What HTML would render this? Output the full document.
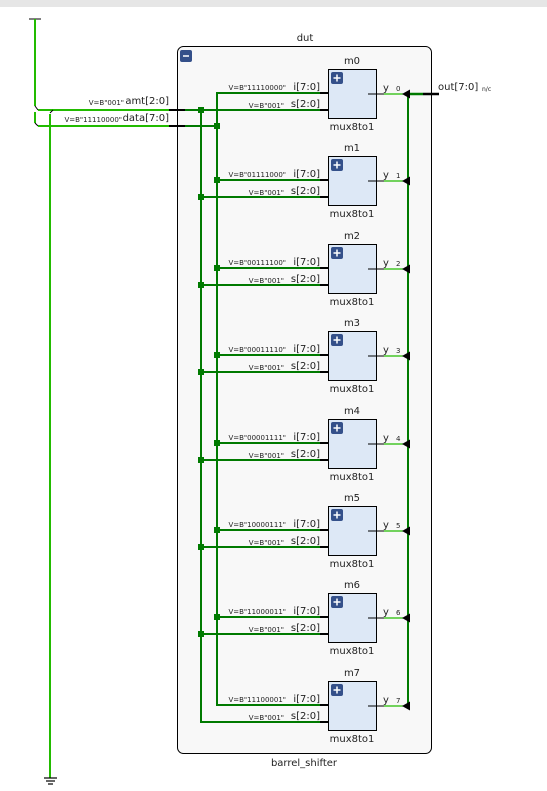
<!DOCTYPE html>
<html><head><meta charset="utf-8"><style>
html,body{margin:0;padding:0;background:#fff;}
svg{display:block;}
text{font-family:"DejaVu Sans","Liberation Sans",sans-serif;fill:#222;}
.sm{font-size:7px;}
.md{font-size:10px;}
</style></head><body>
<svg width="547" height="791" viewBox="0 0 547 791" xmlns="http://www.w3.org/2000/svg">
<rect x="0" y="0" width="547" height="7" fill="#e6e6e6"/>
<line x1="29" y1="19" x2="41" y2="19" stroke="#000" stroke-width="1"/>
<line x1="35" y1="19" x2="35" y2="106" stroke="#22bb00" stroke-width="2"/>
<line x1="35" y1="112" x2="35" y2="123" stroke="#22bb00" stroke-width="2"/>
<path d="M35 106 L38 110 M35 123 L38 126" stroke="#000" stroke-width="1"/>
<line x1="38" y1="110" x2="170" y2="110" stroke="#22bb00" stroke-width="2"/>
<line x1="38" y1="126" x2="170" y2="126" stroke="#22bb00" stroke-width="2"/>
<path d="M50 113 L53 110" stroke="#000" stroke-width="1"/>
<line x1="50" y1="114" x2="50" y2="778" stroke="#22bb00" stroke-width="2"/>
<line x1="44" y1="778" x2="57" y2="778" stroke="#000" stroke-width="1.2"/>
<line x1="46" y1="781" x2="55" y2="781" stroke="#000" stroke-width="1.2"/>
<line x1="48" y1="784" x2="53" y2="784" stroke="#000" stroke-width="1.2"/>
<text class="sm" x="124" y="105" text-anchor="end">V=B"001"</text>
<text class="md" x="169" y="104" text-anchor="end">amt[2:0]</text>
<text class="sm" x="122" y="122" text-anchor="end">V=B"11110000"</text>
<text class="md" x="169" y="121" text-anchor="end">data[7:0]</text>
<text class="md" x="305" y="41" text-anchor="middle">dut</text>
<rect x="177.5" y="46.5" width="254" height="707" rx="6" fill="#f8f8f8" stroke="#000" stroke-width="1"/>
<rect x="180" y="50" width="12" height="12" rx="2" fill="#34508a"/>
<line x1="183" y1="56" x2="189" y2="56" stroke="#fff" stroke-width="1.5"/>
<text class="md" x="304" y="766" text-anchor="middle">barrel_shifter</text>
<line x1="169" y1="110" x2="185" y2="110" stroke="#000" stroke-width="2"/>
<line x1="169" y1="126" x2="185" y2="126" stroke="#000" stroke-width="2"/>
<line x1="185" y1="110" x2="201" y2="110" stroke="#007a00" stroke-width="2"/>
<line x1="185" y1="126" x2="217" y2="126" stroke="#007a00" stroke-width="2"/>
<line x1="201" y1="110" x2="201" y2="722" stroke="#007a00" stroke-width="2"/>
<line x1="217" y1="93" x2="217" y2="705" stroke="#007a00" stroke-width="2"/>
<rect x="198" y="107" width="6" height="6" fill="#007a00"/>
<rect x="214" y="123" width="6" height="6" fill="#007a00"/>
<line x1="408" y1="93" x2="408" y2="706" stroke="#007a00" stroke-width="2"/>
<line x1="408" y1="94" x2="423" y2="94" stroke="#007a00" stroke-width="2.5"/>
<line x1="423" y1="94" x2="439" y2="94" stroke="#000" stroke-width="2.5"/>
<text class="md" x="438" y="90">out[7:0]</text>
<text class="sm" x="482" y="91" style="font-size:6px">n/c</text>
<defs>
<g id="mod">
<line x1="216" y1="24" x2="320" y2="24" stroke="#007a00" stroke-width="2"/>
<line x1="200" y1="41" x2="320" y2="41" stroke="#007a00" stroke-width="2"/>
<line x1="320" y1="24" x2="336" y2="24" stroke="#000" stroke-width="2"/>
<line x1="320" y1="41" x2="336" y2="41" stroke="#000" stroke-width="2"/>
<rect x="328.5" y="0.5" width="48" height="49" fill="#dde8f6" stroke="#000" stroke-width="1"/>
<rect x="331" y="3" width="12" height="12" rx="2" fill="#34508a"/>
<path d="M337 5.5 V12.5 M333.5 9 H340.5" stroke="#fff" stroke-width="1.5"/>
<line x1="368" y1="25" x2="384" y2="25" stroke="#000" stroke-width="1"/>
<line x1="384" y1="25" x2="403" y2="25" stroke="#22bb00" stroke-width="1.2"/>
<path d="M402 25 L410 20.5 L410 29.5 Z" fill="#000"/>
<text class="md" x="320" y="21" text-anchor="end">i[7:0]</text>
<text class="md" x="320" y="38" text-anchor="end">s[2:0]</text>
<text class="sm" x="284" y="39" text-anchor="end">V=B"001"</text>
<text class="md" x="383" y="22">y</text>
<text class="md" x="352" y="61" text-anchor="middle">mux8to1</text>
</g>
</defs>
<g transform="translate(0,69)"><use href="#mod"/><text class="md" x="352" y="-5" text-anchor="middle">m0</text><text class="sm" x="286" y="21" text-anchor="end">V=B"11110000"</text><text class="sm" x="396" y="22">0</text></g>
<g transform="translate(0,156)"><use href="#mod"/><text class="md" x="352" y="-5" text-anchor="middle">m1</text><text class="sm" x="286" y="21" text-anchor="end">V=B"01111000"</text><text class="sm" x="396" y="22">1</text><rect x="214" y="21" width="6" height="6" fill="#007a00"/><rect x="198" y="38" width="6" height="6" fill="#007a00"/></g>
<g transform="translate(0,244)"><use href="#mod"/><text class="md" x="352" y="-5" text-anchor="middle">m2</text><text class="sm" x="286" y="21" text-anchor="end">V=B"00111100"</text><text class="sm" x="396" y="22">2</text><rect x="214" y="21" width="6" height="6" fill="#007a00"/><rect x="198" y="38" width="6" height="6" fill="#007a00"/></g>
<g transform="translate(0,331)"><use href="#mod"/><text class="md" x="352" y="-5" text-anchor="middle">m3</text><text class="sm" x="286" y="21" text-anchor="end">V=B"00011110"</text><text class="sm" x="396" y="22">3</text><rect x="214" y="21" width="6" height="6" fill="#007a00"/><rect x="198" y="38" width="6" height="6" fill="#007a00"/></g>
<g transform="translate(0,419)"><use href="#mod"/><text class="md" x="352" y="-5" text-anchor="middle">m4</text><text class="sm" x="286" y="21" text-anchor="end">V=B"00001111"</text><text class="sm" x="396" y="22">4</text><rect x="214" y="21" width="6" height="6" fill="#007a00"/><rect x="198" y="38" width="6" height="6" fill="#007a00"/></g>
<g transform="translate(0,506)"><use href="#mod"/><text class="md" x="352" y="-5" text-anchor="middle">m5</text><text class="sm" x="286" y="21" text-anchor="end">V=B"10000111"</text><text class="sm" x="396" y="22">5</text><rect x="214" y="21" width="6" height="6" fill="#007a00"/><rect x="198" y="38" width="6" height="6" fill="#007a00"/></g>
<g transform="translate(0,593)"><use href="#mod"/><text class="md" x="352" y="-5" text-anchor="middle">m6</text><text class="sm" x="286" y="21" text-anchor="end">V=B"11000011"</text><text class="sm" x="396" y="22">6</text><rect x="214" y="21" width="6" height="6" fill="#007a00"/><rect x="198" y="38" width="6" height="6" fill="#007a00"/></g>
<g transform="translate(0,681)"><use href="#mod"/><text class="md" x="352" y="-5" text-anchor="middle">m7</text><text class="sm" x="286" y="21" text-anchor="end">V=B"11100001"</text><text class="sm" x="396" y="22">7</text></g>
</svg>
</body></html>
